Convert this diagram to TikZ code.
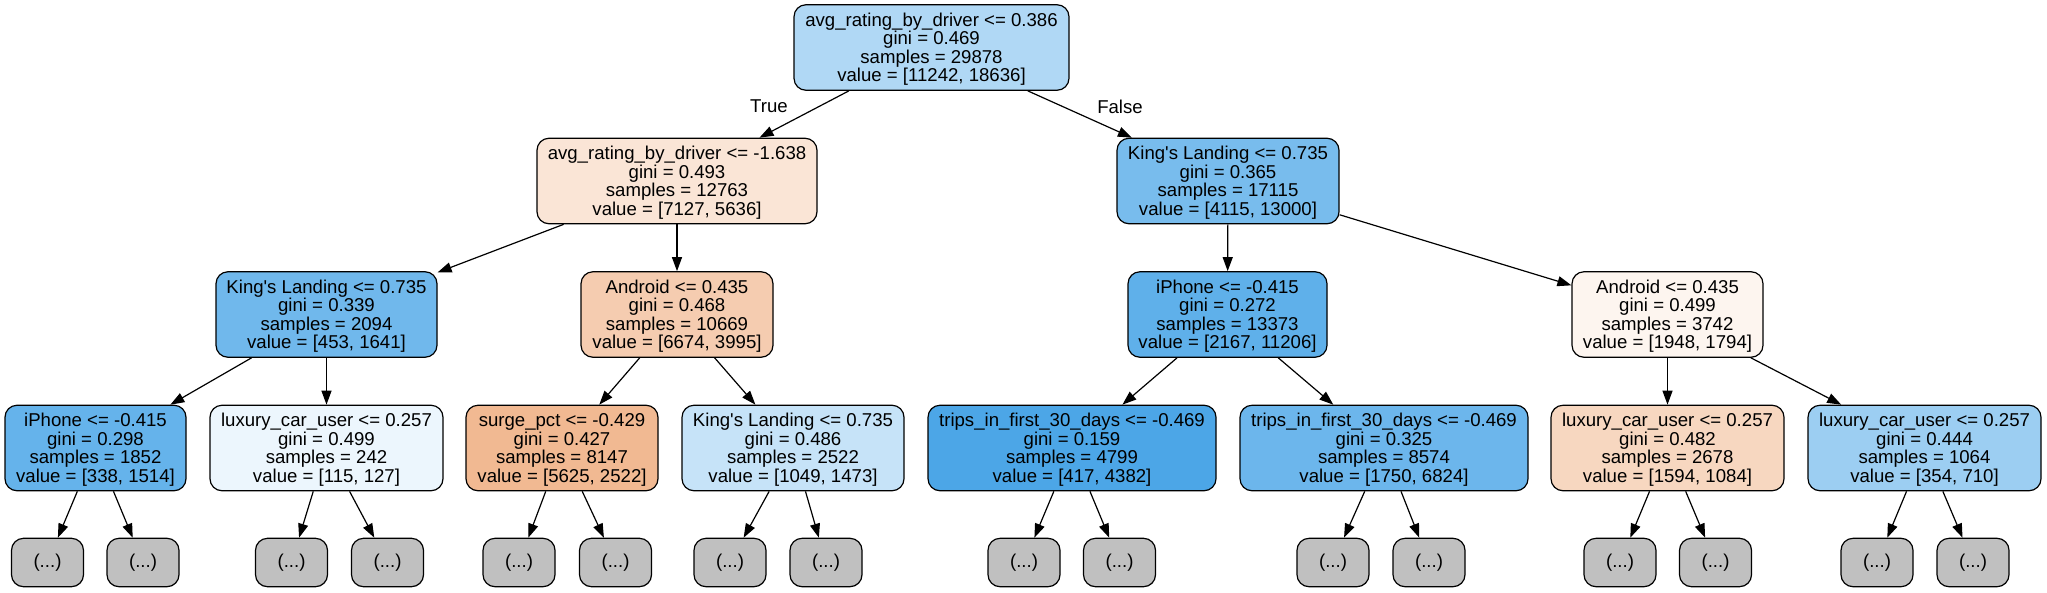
\documentclass[tikz,border=0pt]{standalone}
\usepackage{fontspec}
\setmainfont{Liberation Sans}
\usetikzlibrary{arrows.meta}
\definecolor{cRoot}{RGB}{176,216,245}
\definecolor{cLa}{RGB}{250,229,214}
\definecolor{cLb}{RGB}{120,188,237}
\definecolor{cA}{RGB}{112,184,236}
\definecolor{cB}{RGB}{245,204,176}
\definecolor{cC}{RGB}{95,176,234}
\definecolor{cD}{RGB}{253,245,239}
\definecolor{cE}{RGB}{101,179,235}
\definecolor{cF}{RGB}{236,246,253}
\definecolor{cG}{RGB}{241,185,146}
\definecolor{cH}{RGB}{198,227,248}
\definecolor{cI}{RGB}{76,166,231}
\definecolor{cJ}{RGB}{108,182,236}
\definecolor{cK}{RGB}{247,215,192}
\definecolor{cL}{RGB}{156,206,242}
\definecolor{cLeaf}{RGB}{192,192,192}
\newcommand{\KL}{King\textquotesingle s Landing}
\begin{document}
\begin{tikzpicture}[x=1pt,y=-1pt,
  treefont/.style={font=\fontsize{18.6}{18.5}\selectfont},
  split/.style={treefont, draw=black, line width=1.2pt, rounded corners=12pt,
    inner sep=0pt, align=center, minimum height=85.5pt, text depth=0pt},
  leaf/.style={treefont, draw=black, line width=1.2pt, rounded corners=12pt,
    fill=cLeaf, inner sep=0pt, minimum width=72pt, minimum height=48.4pt},
  conn/.style={-{Triangle[length=14pt,width=10pt]}, line width=1.2pt},
  elabel/.style={treefont, inner sep=0pt}]
\useasboundingbox (0,0) rectangle (2047,592);
% level 0
\node[split, fill=cRoot, minimum width=275pt] (root) at (931.5,47.5)
  {avg\_rating\_by\_driver <= 0.386\\gini = 0.469\\samples = 29878\\value = [11242, 18636]};
% level 1
\node[split, fill=cLa, minimum width=280pt] (la) at (677,181)
  {avg\_rating\_by\_driver <= -1.638\\gini = 0.493\\samples = 12763\\value = [7127, 5636]};
\node[split, fill=cLb, minimum width=222pt] (lb) at (1228,181)
  {\KL{} <= 0.735\\gini = 0.365\\samples = 17115\\value = [4115, 13000]};
% level 2
\node[split, fill=cA, minimum width=221pt] (a) at (326.5,314.5)
  {\KL{} <= 0.735\\gini = 0.339\\samples = 2094\\value = [453, 1641]};
\node[split, fill=cB, minimum width=192pt] (b) at (677,314.5)
  {Android <= 0.435\\gini = 0.468\\samples = 10669\\value = [6674, 3995]};
\node[split, fill=cC, minimum width=199pt] (c) at (1227.5,314.5)
  {iPhone <= -0.415\\gini = 0.272\\samples = 13373\\value = [2167, 11206]};
\node[split, fill=cD, minimum width=191pt] (d) at (1667.5,314.5)
  {Android <= 0.435\\gini = 0.499\\samples = 3742\\value = [1948, 1794]};
% level 3
\node[split, fill=cE, minimum width=181pt] (e) at (95.5,448)
  {iPhone <= -0.415\\gini = 0.298\\samples = 1852\\value = [338, 1514]};
\node[split, fill=cF, minimum width=233pt] (f) at (326.5,448)
  {luxury\_car\_user <= 0.257\\gini = 0.499\\samples = 242\\value = [115, 127]};
\node[split, fill=cG, minimum width=192pt] (g) at (562,448)
  {surge\_pct <= -0.429\\gini = 0.427\\samples = 8147\\value = [5625, 2522]};
\node[split, fill=cH, minimum width=222pt] (h) at (793,448)
  {\KL{} <= 0.735\\gini = 0.486\\samples = 2522\\value = [1049, 1473]};
\node[split, fill=cI, minimum width=288pt] (i) at (1072,448)
  {trips\_in\_first\_30\_days <= -0.469\\gini = 0.159\\samples = 4799\\value = [417, 4382]};
\node[split, fill=cJ, minimum width=288pt] (j) at (1384,448)
  {trips\_in\_first\_30\_days <= -0.469\\gini = 0.325\\samples = 8574\\value = [1750, 6824]};
\node[split, fill=cK, minimum width=233pt] (k) at (1667.5,448)
  {luxury\_car\_user <= 0.257\\gini = 0.482\\samples = 2678\\value = [1594, 1084]};
\node[split, fill=cL, minimum width=233pt] (l) at (1924.5,448)
  {luxury\_car\_user <= 0.257\\gini = 0.444\\samples = 1064\\value = [354, 710]};
% level 4
\node[leaf] (e1) at (47.5,562.5) {(...)};
\node[leaf] (e2) at (143,562.5) {(...)};
\node[leaf] (f1) at (291.5,562.5) {(...)};
\node[leaf] (f2) at (387.5,562.5) {(...)};
\node[leaf] (g1) at (519,562.5) {(...)};
\node[leaf] (g2) at (615.5,562.5) {(...)};
\node[leaf] (h1) at (730,562.5) {(...)};
\node[leaf] (h2) at (826,562.5) {(...)};
\node[leaf] (i1) at (1024,562.5) {(...)};
\node[leaf] (i2) at (1119.5,562.5) {(...)};
\node[leaf] (j1) at (1333,562.5) {(...)};
\node[leaf] (j2) at (1429,562.5) {(...)};
\node[leaf] (k1) at (1620,562.5) {(...)};
\node[leaf] (k2) at (1715.5,562.5) {(...)};
\node[leaf] (l1) at (1877,562.5) {(...)};
\node[leaf] (l2) at (1973,562.5) {(...)};
% edges
\draw[conn] (root) -- (la);
\draw[conn] (root) -- (lb);
\draw[conn] (la) -- (a);
\draw[conn] (la) -- (b);
\draw[conn] (lb) -- (c);
\draw[conn] (lb) -- (d);
\draw[conn] (a) -- (e);
\draw[conn] (a) -- (f);
\draw[conn] (b) -- (g);
\draw[conn] (b) -- (h);
\draw[conn] (c) -- (i);
\draw[conn] (c) -- (j);
\draw[conn] (d) -- (k);
\draw[conn] (d) -- (l);
\foreach \p in {e,f,g,h,i,j,k,l}{
  \draw[conn] (\p) -- (\p1);
  \draw[conn] (\p) -- (\p2);
}
% edge labels
\node[elabel] (tlab) at (769,106) {True};
\node[elabel] (flab) at (1120,107) {False};
\end{tikzpicture}
\end{document}
